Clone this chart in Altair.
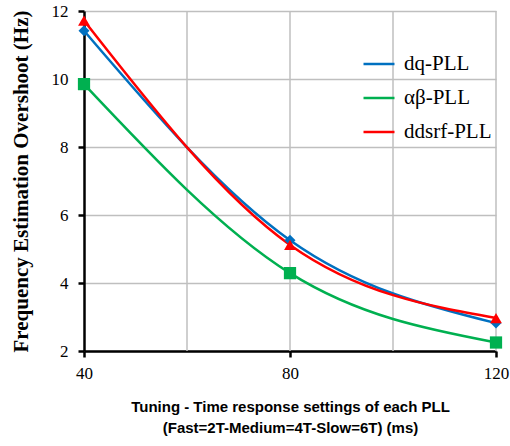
import altair as alt
import pandas as pd

x_vals = [40, 80, 120]
series_names = ["dq-PLL", "αβ-PLL", "ddsrf-PLL"]
dq_vals = [11.42, 5.26, 2.82]
ab_vals = [9.85, 4.29, 2.25]
ddsrf_vals = [11.72, 5.12, 2.97]
colors = ["#0070C0", "#00B050", "#FF0000"]
shapes = ["diamond", "square", "triangle-up"]
marker_sizes = [120, 150, 140]
grid_x = [60, 80, 100, 120]

rows = []
for name, vals in [("αβ-PLL", ab_vals), ("dq-PLL", dq_vals), ("ddsrf-PLL", ddsrf_vals)]:
    for xv, yv in zip(x_vals, vals):
        rows.append({"x": xv, "v": yv, "s": name})
df = pd.DataFrame(rows)
gdf = pd.DataFrame({"x": grid_x})

xscale = alt.Scale(domain=[40, 120], nice=False, zero=False)
yscale = alt.Scale(domain=[2, 12], nice=False, zero=False)

xaxis = alt.Axis(values=[40, 80, 120], grid=False, domainColor="black", domainWidth=2.5,
                 tickColor="black", tickWidth=2.5, tickSize=6, labelFont="Liberation Serif",
                 labelFontSize=17, labelColor="black", labelPadding=8, labelFlush=False,
                 title=["Tuning - Time response settings of each PLL", "(Fast=2T-Medium=4T-Slow=6T) (ms)"],
                 titleFont="Liberation Sans", titleFontSize=15, titleFontWeight="bold",
                 titleColor="black", titlePadding=18, titleLineHeight=21)
yaxis = alt.Axis(values=[2, 4, 6, 8, 10, 12], grid=True, gridColor="#BFBFBF", gridWidth=1.5,
                 domainColor="black", domainWidth=2.5, tickColor="black", tickWidth=2.5,
                 tickSize=6, labelFont="Liberation Serif", labelFontSize=17, labelColor="black",
                 labelPadding=10, title="Frequency Estimation Overshoot (Hz)",
                 titleFont="Liberation Serif", titleFontSize=21, titleFontWeight="bold",
                 titleColor="black", titlePadding=20)

grid = alt.Chart(gdf).mark_rule(color="#BFBFBF", strokeWidth=1.5).encode(
    x=alt.X("x:Q", scale=xscale, axis=xaxis)
)

base = alt.Chart(df)
lines = base.mark_line(interpolate="monotone", strokeWidth=2.5).encode(
    x=alt.X("x:Q", scale=xscale, axis=xaxis),
    y=alt.Y("v:Q", scale=yscale, axis=yaxis),
    color=alt.Color("s:N", scale=alt.Scale(domain=series_names, range=colors),
                    legend=alt.Legend(title=None, orient="none", legendX=278, legendY=36,
                                      symbolType="stroke", symbolSize=961, symbolStrokeWidth=2.5,
                                      labelFont="Liberation Serif", labelFontSize=21,
                                      labelColor="black", labelOffset=8, rowPadding=7)),
    detail="s:N",
)

point_layers = []
for name, col, shp, sz in zip(series_names, colors, shapes, marker_sizes):
    point_layers.append(
        base.transform_filter(alt.datum.s == name).mark_point(
            filled=True, opacity=1, fill=col, stroke=None, shape=shp, size=sz
        ).encode(
            x=alt.X("x:Q", scale=xscale),
            y=alt.Y("v:Q", scale=yscale),
        )
    )

chart = alt.layer(grid, lines, *point_layers).properties(
    width=412, height=340,
    autosize=alt.AutoSizeParams(type="none"),
    padding={"left": 84, "top": 11, "right": 14, "bottom": 95},
    background="white",
).configure_view(stroke=None)

chart.save("out.html", embed_options={"renderer": "svg", "actions": False})
